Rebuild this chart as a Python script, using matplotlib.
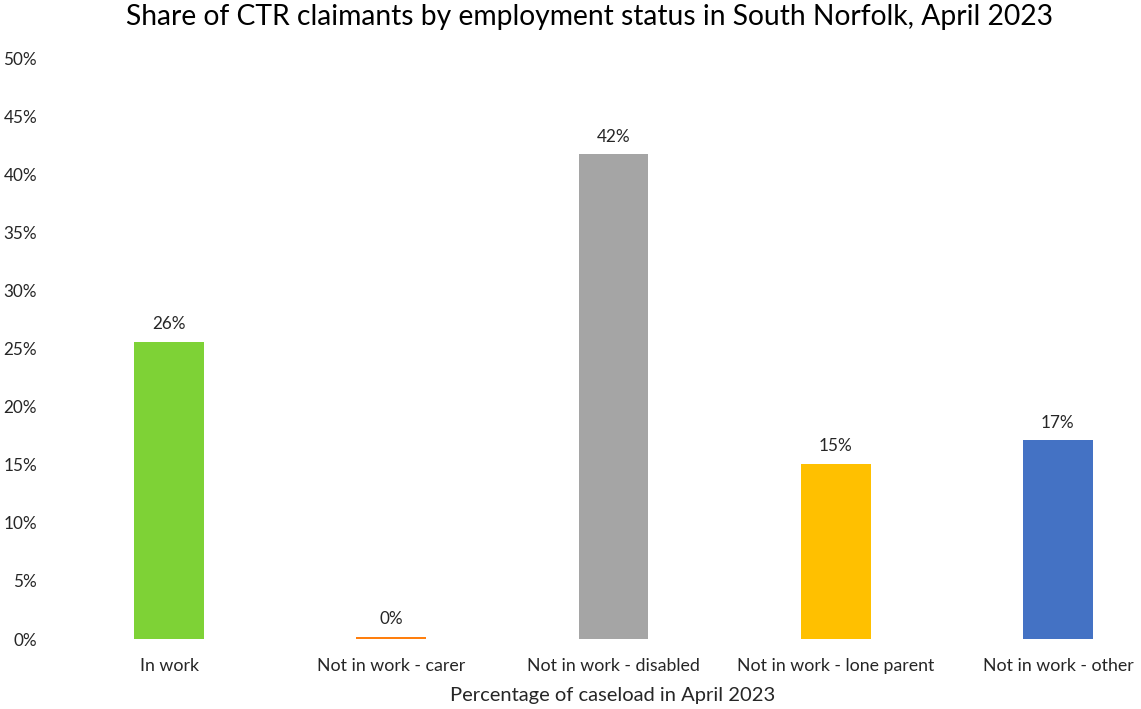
import matplotlib
matplotlib.use("Agg")
import matplotlib.pyplot as plt
from matplotlib.ticker import FuncFormatter

plt.rcParams['font.family'] = ['Lato', 'DejaVu Sans']

# --- data ---
categories = ["In work", "Not in work - carer", "Not in work - disabled",
              "Not in work - lone parent", "Not in work - other"]
shares = [25.6, 0.2, 41.7, 15.1, 17.1]          # % of caseload
labels = ["26%", "0%", "42%", "15%", "17%"]
colors = ["#7ED236", "#FF7F0E", "#A5A5A5", "#FFC000", "#4472C4"]
yticks = [0, 5, 10, 15, 20, 25, 30, 35, 40, 45, 50]

W, H = 1141, 709
fig = plt.figure(figsize=(W / 100, H / 100), dpi=100)
# plot area runs slightly past the right edge, as in the source image
left, right, bottom, top = 58, 1169, 639, 58
ax = fig.add_axes([left / W, 1 - bottom / H, (right - left) / W, (bottom - top) / H])

x = list(range(len(categories)))
ax.bar(x, shares, width=0.315, color=colors)
for xi, v, lab in zip(x, shares, labels):
    ax.annotate(lab, (xi, v), textcoords="offset points", xytext=(0, 7),
                ha="center", va="bottom", fontsize=12.3, color="#262626")

ax.set_xlim(-0.5, len(categories) - 0.5)
ax.set_ylim(0, 50)
ax.set_yticks(yticks)
ax.yaxis.set_major_formatter(FuncFormatter(lambda v, _: f"{v:.0f}%"))
ax.set_xticks(x)
ax.set_xticklabels(categories)
ax.tick_params(axis="y", length=0, pad=15, labelsize=12.3, labelcolor="#262626")
ax.tick_params(axis="x", length=0, pad=13.5, labelsize=12.8, labelcolor="#262626")
for s in ax.spines.values():
    s.set_visible(False)

fig.text(590 / W, 1 - 17 / H,
         "Share of CTR claimants by employment status in South Norfolk, April 2023",
         ha="center", va="center", fontsize=20.3, color="#000000")
fig.text(613 / W, 1 - 695 / H, "Percentage of caseload in April 2023",
         ha="center", va="center", fontsize=14.5, color="#262626")

fig.savefig("out.png", dpi=100)
